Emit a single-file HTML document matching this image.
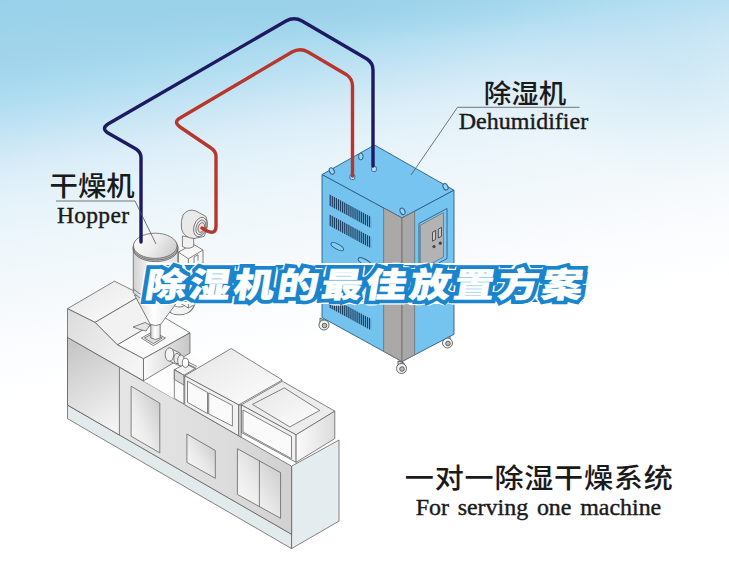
<!DOCTYPE html>
<html lang="zh">
<head>
<meta charset="utf-8">
<title>除湿机的最佳放置方案</title>
<style>
html,body{margin:0;padding:0;}
body{width:729px;height:561px;overflow:hidden;position:relative;background:#fff;}
#bg{position:absolute;left:0;top:0;width:729px;height:561px;background:radial-gradient(ellipse 370px 45px at 250px 0px,rgba(152,209,233,0.9) 0%,rgba(152,209,233,0) 100%),radial-gradient(ellipse 170px 110px at 680px 70px,rgba(152,209,233,0.24) 0%,rgba(152,209,233,0) 100%),linear-gradient(170.4deg,rgb(152,209,233) 0.00%,rgb(154,211,234) 1.75%,rgb(161,212,235) 7.75%,rgb(164,215,237) 10.96%,rgb(176,221,240) 15.05%,rgb(190,226,244) 18.41%,rgb(206,232,245) 21.92%,rgb(218,237,248) 24.99%,rgb(228,242,249) 29.23%,rgb(239,247,251) 36.97%,rgb(243,248,251) 42.09%,rgb(247,250,253) 46.18%,rgb(255,255,255) 58.45%);}
svg{position:absolute;left:0;top:0;}
.cn{font-family:"Liberation Sans","Noto Sans CJK SC",sans-serif;fill:#1a1a1a;font-weight:500;}
.en{font-family:"Liberation Serif",serif;fill:#1a1a1a;stroke:#1a1a1a;stroke-width:0.4px;}
.ttl{font-family:"Liberation Sans","Noto Sans CJK SC",sans-serif;font-weight:900;font-size:34px;}
</style>
</head>
<body>
<div id="bg"></div>
<svg width="729" height="561" viewBox="0 0 729 561">
<!-- MACHINE -->
<defs>
<linearGradient id="gL" x1="0.3" y1="0" x2="0.6" y2="1"><stop offset="0" stop-color="#c6c6c6"/><stop offset="0.5" stop-color="#dcdcdc"/><stop offset="1" stop-color="#f3f3f3"/></linearGradient>
<linearGradient id="gL2" x1="0" y1="0" x2="1" y2="0.6"><stop offset="0" stop-color="#dcdcdc"/><stop offset="1" stop-color="#f4f4f4"/></linearGradient>
<linearGradient id="gW" x1="1" y1="0" x2="0" y2="1"><stop offset="0" stop-color="#c4c4c4"/><stop offset="0.6" stop-color="#ececec"/><stop offset="1" stop-color="#fbfbfb"/></linearGradient>
<linearGradient id="gB" x1="0" y1="0" x2="1" y2="0"><stop offset="0.2" stop-color="#e6e6e6"/><stop offset="0.47" stop-color="#e1e1e1"/><stop offset="0.71" stop-color="#dcdcdc"/><stop offset="1" stop-color="#d1d1d1"/></linearGradient>
<linearGradient id="gR" x1="0" y1="0" x2="1" y2="0"><stop offset="0" stop-color="#fbfbfb"/><stop offset="1" stop-color="#c6c6c6"/></linearGradient>
<linearGradient id="gT" x1="0" y1="0" x2="1" y2="1"><stop offset="0" stop-color="#e6e6e6"/><stop offset="1" stop-color="#fdfdfd"/></linearGradient>
<linearGradient id="gC" x1="0" y1="0" x2="1" y2="0"><stop offset="0" stop-color="#d2d2d2"/><stop offset="0.45" stop-color="#ffffff"/><stop offset="1" stop-color="#e2e2e2"/></linearGradient>
<linearGradient id="gR2" x1="0" y1="0" x2="1" y2="0"><stop offset="0" stop-color="#fbfbfb"/><stop offset="1" stop-color="#dcdcdc"/></linearGradient>
<linearGradient id="gLid" x1="0" y1="0.2" x2="1" y2="0.6"><stop offset="0" stop-color="#fbfbfb"/><stop offset="0.5" stop-color="#ededed"/><stop offset="1" stop-color="#cdcdcd"/></linearGradient>
</defs>
<g id="machine" stroke="#5c5c5c" stroke-width="0.75" stroke-linejoin="round">
<!-- base -->
<polygon points="67.500,405 291.600,534.300 291.600,548.600 67.500,418.700" fill="#e3eaec"/>
<!-- right end face -->
<polygon points="291.600,466.200 339,440 339,521.100 291.600,548.600" fill="#e5ecef"/>
<!-- main body left face -->
<polygon points="67.500,337.400 291.600,466.200 291.600,534.300 67.500,405" fill="url(#gB)"/>
<polygon points="67.500,337.400 119.400,367.200 119.400,435 67.500,405" fill="url(#gL)"/>
<!-- windows -->
<polygon points="131.100,386.200 159.800,403.200 159.800,452.900 131.100,436.200" fill="url(#gW)"/>
<polygon points="186.900,434 215.300,450.500 215.300,478.300 186.900,462.400" fill="url(#gW)"/>
<polygon points="237.400,448.700 280.600,472.600 280.600,518.300 237.400,494.400" fill="url(#gW)"/>
<line x1="259.400" y1="460.800" x2="259.400" y2="506.500"/>
<!-- main body top (visible part) -->
<polygon points="143.600,381.100 190,353.500 240,382 190,408" fill="#fdfdfd" stroke="none"/>
<!-- upper-left block -->
<polygon points="67.500,308.700 114.400,281.200 141.900,294.900 95,322.400" fill="url(#gT)"/>
<polygon points="95,322.400 141.900,294.900 164.300,317.400 117.400,344.900" fill="#f2f2f2"/>
<polygon points="117.400,344.900 164.300,317.400 190,332.800 143.500,358.800" fill="#fbfbfb"/>
<polygon points="67.500,308.700 95,322.400 117.400,344.900 143.500,358.800 143.500,380.800 67.500,337.400" fill="url(#gL2)"/>
<polygon points="143.500,358.800 190,332.800 190,353 143.500,380.800" fill="url(#gR)"/>
<!-- small platen block -->
<polygon points="174.300,369.700 186.300,363.300 195.900,368.100 183.900,375.300" fill="#f4f4f4"/>
<polygon points="174.300,369.700 183.900,375.300 183.900,403.900 174.300,398.400" fill="#fafafa"/>
<polygon points="174.300,369.700 183.900,375.300 183.900,385 174.300,379.500" fill="#d9d9d9"/>
<!-- nozzle -->
<g fill="#f3f3f3" stroke="#555">
<path d="M169.500 348 L180 353 L180 366 L169.500 361z" fill="#ececec"/>
<ellipse cx="169.500" cy="354.500" rx="4.300" ry="6.700"/>
<ellipse cx="177" cy="358.500" rx="3.200" ry="5.200" fill="#e6e6e6"/>
<ellipse cx="181" cy="360.500" rx="3.400" ry="5.600" fill="#efefef"/>
<ellipse cx="185.500" cy="362.800" rx="3.200" ry="4.600" fill="#fff"/>
<path d="M188 362 L197 366.500 M188 365 L195 368.500" fill="none"/>
</g>
<!-- middle box -->
<polygon points="184.700,375.800 231.200,348.500 282.300,380 238.700,404.900" fill="url(#gT)"/>
<polygon points="184.700,375.800 238.700,404.900 238.700,435.800 184.700,404.700" fill="#f1f1f1"/>
<polygon points="187.500,381.200 207.500,392.400 207.500,413.600 187.500,402.400" fill="#fafafa"/>
<polygon points="208.700,392.900 232.400,405.400 232.400,426.100 208.700,413.900" fill="#fafafa"/>
<!-- right box -->
<polygon points="241.200,404.900 282.300,381.200 334.800,411.100 296.100,434.800" fill="#ececec"/>
<polygon points="252.400,404.400 284.300,387.900 319.800,410.400 289.800,426.900" fill="url(#gT)"/>
<polygon points="241.200,404.900 296.100,434.800 296.100,462.300 241.200,432.400" fill="#f1f1f1"/>
<polygon points="243,410 291.500,436.500 291.500,458.600 243,432" fill="#fafafa"/>
<polygon points="296.100,434.800 334.800,411.100 334.800,438.600 296.100,462.300" fill="url(#gR2)"/>
<polygon points="238.700,404.900 241.200,404.900 241.200,437.200 238.700,435.800" fill="#dcdcdc"/>
</g>
<!-- HOPPER -->
<g id="hopper" stroke="#5c5c5c" stroke-width="0.75" stroke-linejoin="round">
<!-- base plate & neck -->
<polygon points="141.400,338 153,331.500 165.500,338 153.400,345.700" fill="#f2f2f2"/>
<polygon points="144.500,338 153,333.300 162.300,338 153.400,343.600" fill="#dedede"/>
<path d="M133 327 l12 -4.500 l5 2.500 l-4 6 l-6 -1.500z" fill="#e4e4e4"/>
<path d="M150.800 324 V338 Q155.500 341 160.200 338 V324z" fill="url(#gC)"/>
<!-- elbow pipe behind -->
<path d="M168 298 Q168 311 179 311 Q191 311 192 298" fill="none" stroke="#5c5c5c" stroke-width="8.5"/><path d="M168 297 Q168 311 179 311 Q191 311 192 297" fill="none" stroke="#f3f3f3" stroke-width="7"/>
<!-- heater box -->
<polygon points="178.400,252.100 193,244 203,250 203,300 188.400,308 178.400,302" fill="#f7f7f7"/>
<polyline points="178.400,252.100 188.400,258.800 203,250" fill="none"/>
<line x1="188.400" y1="258.800" x2="188.400" y2="308"/>
<path d="M194 263 v-6 l4 -2.300 v6" fill="none"/>
<!-- blower neck -->
<path d="M182.400 236 V246.500 Q188 250 193.700 246.500 V238z" fill="#f1f1f1"/>
<!-- blower drum -->
<path d="M183 215 Q188 208 196 211 L206 216.500 Q209.500 226 204 236.500 L194 238.500 Q184 238 181.500 229 Q180.500 221 183 215z" fill="#e9e9e9"/>
<ellipse cx="200.300" cy="227" rx="6.300" ry="10" transform="rotate(18 200.300 227)" fill="#f3f3f3"/>
<ellipse cx="200.800" cy="227.300" rx="4.600" ry="7.600" transform="rotate(18 200.800 227.300)" fill="#e4e4e4"/>
<ellipse cx="201.300" cy="227.500" rx="3" ry="5" transform="rotate(18 201.300 227.500)" fill="#f6dcd8"/>
<!-- cone -->
<path d="M134.500 295 L150.200 324.200 Q155.500 327 160.800 324.200 L176.500 303 L177 292z" fill="url(#gC)"/>
<!-- cylinder -->
<path d="M133.300 246 V293 Q155.500 312 177.800 293 V246z" fill="url(#gC)"/>
<path d="M133.300 289 Q155.500 308 177.800 289" fill="none"/>
<!-- lid -->
<ellipse cx="155.500" cy="249" rx="22.400" ry="12.600" fill="#c8c8c8"/>
<ellipse cx="155.500" cy="247.500" rx="22.400" ry="12.600" fill="#b5b5b5"/>
<ellipse cx="155.300" cy="245.800" rx="21.800" ry="12.600" fill="url(#gLid)"/>
</g>
<!-- DEHUMIDIFIER -->
<g id="dehum" stroke="#2c5c84" stroke-width="0.9" stroke-linejoin="round">
<!-- wheels -->
<g id="wheels" fill="#f4f4f4" stroke="#444" stroke-width="0.8">
<path d="M320 318 l6 3 v4 h-6z" fill="#ddd"/><circle cx="324" cy="325" r="5"/><circle cx="324.500" cy="325.500" r="2.300" fill="#bbb"/>
<path d="M398 361 l6 2 v5 h-6z" fill="#ddd"/><circle cx="401.500" cy="368.500" r="5"/><circle cx="402" cy="369" r="2.300" fill="#bbb"/>
<path d="M444 338 l6 -3 v6 h-6z" fill="#ddd"/><circle cx="447.500" cy="343" r="5"/><circle cx="448" cy="343.500" r="2.300" fill="#bbb"/>
</g>
<!-- faces -->
<polygon points="322,174.600 374.500,145 454,190.200 402,218" fill="#76c4ef"/>
<polygon points="322,174.600 402,218 402,361.500 322,317.500" fill="#74c3ee"/>
<polygon points="402,218 454,190.200 454,334.300 402,361.500" fill="#75c3ef"/>
<!-- grey strips -->
<polygon points="383.600,208 402,218 402,361.500 383.600,351.400" fill="#aba9a7" stroke="#666" stroke-width="0.7"/>
<polygon points="402,218 414.600,211.300 414.600,354.900 402,361.500" fill="#a9a8a8" stroke="#666" stroke-width="0.7"/>
<!-- control panel -->
<polygon points="419,223.500 447,208.500 447,258.500 419,273.500" fill="#7cc6f0"/>
<polygon points="420.300,225.200 443.500,212.600 443.500,257 420.300,269.600" fill="#b3b3b3" stroke="#5a6a78" stroke-width="0.7"/>
<g fill="#c9c9c9" stroke="#333" stroke-width="0.8">
<polygon points="432.500,232.200 435.600,230.500 435.600,239.500 432.500,241.200"/>
<polygon points="438.300,229 441.500,227.300 441.500,236.300 438.300,238"/>
</g>
<circle cx="434" cy="246.600" r="1.600" fill="#444" stroke="none"/>
<circle cx="440.300" cy="243.200" r="1.600" fill="#444" stroke="none"/>
<!-- louvres -->
<g transform="translate(329.600,194.400) skewY(28.500)" stroke="#1d3f60" stroke-width="11.300" stroke-dasharray="1.250 0.820" fill="none">
<line x1="0" y1="5.650" x2="41.500" y2="5.650"/>
<line x1="0" y1="25.750" x2="41.500" y2="25.750"/>
<line x1="0" y1="107.750" x2="41.500" y2="107.750"/>
</g>
<!-- slots -->
<g fill="#86cdf3" stroke="#2c5c84" stroke-width="0.9">
<ellipse cx="337.300" cy="246.600" rx="7" ry="2.600" transform="rotate(28.500 337.300 246.600)"/>
<ellipse cx="364.500" cy="261.800" rx="7" ry="2.600" transform="rotate(28.500 364.500 261.800)"/>
</g>
<!-- lifting eyes -->
<g fill="#9ad3f4" stroke="#2c5c84" stroke-width="1">
<ellipse cx="331.800" cy="171" rx="2.300" ry="3.400" transform="rotate(-25 331.800 171)"/>
<ellipse cx="360.800" cy="156.500" rx="2.300" ry="3.400"/>
<ellipse cx="445.500" cy="186.800" rx="2.300" ry="3.400" transform="rotate(-25 445.500 186.800)"/>
<ellipse cx="402.500" cy="211.300" rx="2.300" ry="3.400" transform="rotate(-25 402.500 211.300)"/>
</g>
<!-- pipe stubs -->
<g fill="#b9e0f7" stroke="#2c5c84" stroke-width="0.8">
<rect x="350" y="174.500" width="4.800" height="5" rx="1.500"/>
<rect x="371.600" y="166.500" width="4.800" height="5" rx="1.500"/>
</g>
</g>
<!-- PIPES -->
<g id="pipes" fill="none" stroke-linecap="round" stroke-linejoin="round">
<path d="M141 242 V158 Q141 152 136 149 L108 133 Q101 128.500 108 124 L286 21 Q294 16.500 302 21 L367 59 Q373 63 373 70 V166" stroke="#1e1a62" stroke-width="3.4"/>
<path d="M202 228 L207 231 Q216 235 216 226 V157 Q216 151 211 148 L180 127 Q173 122 180 118 L292 52 Q300 47.500 308 52 L347 75 Q352.500 79 352.500 86 V176" stroke="#b8362d" stroke-width="3.4"/>
</g>
<!-- LABELS -->
<g id="labels">
<text class="cn" transform="translate(49.500,195.500) scale(1.052,1)" font-size="27">干燥机</text>
<path d="M56 201 H135 L156 244" fill="none" stroke="#555" stroke-width="0.8"/>
<text class="en" x="57" y="223" font-size="23.500" letter-spacing="0.3">Hopper</text>
<text class="cn" transform="translate(483.800,102.900) scale(1.03,1)" font-size="26.700">除湿机</text>
<path d="M579.500 107.300 H457.500 L411 175" fill="none" stroke="#555" stroke-width="0.8"/>
<text class="en" x="458.700" y="129.400" font-size="24" letter-spacing="0.02">Dehumidifier</text>
<text class="cn" transform="translate(404.800,488.200) scale(1.065,1)" font-size="27.300" letter-spacing="0.75">一对一除湿干燥系统</text>
<text class="en" transform="translate(415.700,515.200) scale(1.06,1)" font-size="22.600" word-spacing="2.6">For serving one machine</text>
</g>
<!-- TITLE -->
<polygon points="147,264 588,264 583.500,303 142.500,303" fill="#1a84cc" stroke="#fff" stroke-width="2" stroke-linejoin="round"/>
<g id="title" transform="translate(144,297.100) skewX(-9) scale(1.2,1)">
<text class="ttl" x="0" y="0" fill="#fff" stroke="#fff" stroke-width="10.4" stroke-linejoin="round" letter-spacing="2.7">除湿机的最佳放置方案</text>
<text class="ttl" x="0" y="0" fill="#fff" stroke="#1a84cc" stroke-width="8" stroke-linejoin="miter" stroke-miterlimit="1.5" letter-spacing="2.7">除湿机的最佳放置方案</text>
<text class="ttl" x="0" y="0" fill="#fff" stroke="#fff" stroke-width="0.5" letter-spacing="2.7">除湿机的最佳放置方案</text>
</g>
</svg>
</body>
</html>
